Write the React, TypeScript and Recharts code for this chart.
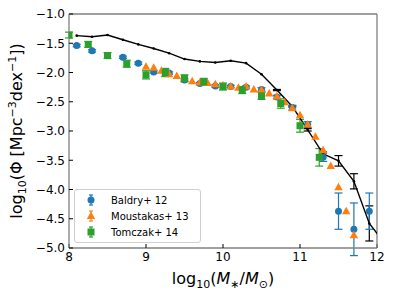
import { ScatterChart, Scatter, XAxis, YAxis, ErrorBar, Legend, Label } from "recharts";

// model curve (black)
const modelX = [8.1, 8.3, 8.5, 8.7, 8.9, 9.1, 9.3, 9.5, 9.7, 9.9, 10.1, 10.3, 10.5, 10.7, 10.9, 11.1, 11.3, 11.5, 11.7, 11.9, 12.1];
const modelY = [-1.37, -1.39, -1.36, -1.44, -1.52, -1.59, -1.67, -1.77, -1.81, -1.83, -1.8, -1.84, -2.03, -2.3, -2.58, -2.98, -3.39, -3.51, -3.86, -4.58, -4.92];
const modelErr = [0, 0, 0, 0, 0, 0, 0, 0, 0, 0, 0, 0, 0, 0.01, 0.01, 0.02, 0.03, 0.09, 0.13, 0.3, 0];

const baldryX = [8.1, 8.3, 8.7, 8.9, 9.1, 9.3, 9.5, 9.7, 9.9, 10.1, 10.3, 10.5, 10.7, 10.9, 11.1, 11.3, 11.5, 11.7, 11.9];
const baldryY = [-1.54, -1.63, -1.74, -1.84, -1.99, -2.01, -2.13, -2.19, -2.23, -2.24, -2.25, -2.29, -2.42, -2.6, -2.89, -3.45, -4.37, -4.68, -4.37];
const baldryErr = [0.02, 0.02, 0.02, 0.02, 0.02, 0.02, 0.02, 0.02, 0.02, 0.02, 0.02, 0.03, 0.03, 0.04, 0.05, 0.07, 0.31, 0.45, 0.31];

const moustakasX = [9.0, 9.1, 9.2, 9.3, 9.4, 9.5, 9.6, 9.7, 9.8, 9.9, 10.0, 10.1, 10.2, 10.3, 10.4, 10.5, 10.6, 10.7, 10.8, 10.9, 11.0, 11.1, 11.2, 11.3, 11.4, 11.5, 11.6, 11.7];
const moustakasY = [-1.9, -1.92, -1.97, -2.03, -2.06, -2.1, -2.15, -2.17, -2.18, -2.2, -2.22, -2.24, -2.26, -2.24, -2.29, -2.3, -2.36, -2.41, -2.51, -2.61, -2.73, -2.89, -3.1, -3.33, -3.6, -3.96, -4.37, -4.78];

const tomczakX = [8.0, 8.25, 8.5, 8.75, 9.0, 9.25, 9.5, 9.75, 10.0, 10.25, 10.5, 10.75, 11.0, 11.25];
const tomczakY = [-1.36, -1.52, -1.71, -1.85, -2.04, -2.0, -2.1, -2.16, -2.24, -2.3, -2.4, -2.53, -2.91, -3.45];
const tomczakErr = [0.05, 0.05, 0.05, 0.06, 0.07, 0.07, 0.06, 0.06, 0.06, 0.06, 0.06, 0.08, 0.11, 0.15];

const xTicks = [8, 9, 10, 11, 12];
const yTicks = [-1, -1.5, -2, -2.5, -3, -3.5, -4, -4.5, -5];

const BLUE = "#1f77b4";
const ORANGE = "#ff7f0e";
const GREEN = "#2ca02c";
const FONT = "DejaVu Sans, sans-serif";
const SPINE = "#808080";

const model = modelX.map((x, i) => ({ x, y: modelY[i], err: modelErr[i] }));
const baldry = baldryX.map((x, i) => ({ x, y: baldryY[i], err: baldryErr[i] }));
const moustakas = moustakasX.map((x, i) => ({ x, y: moustakasY[i] }));
const tomczak = tomczakX.map((x, i) => ({ x, y: tomczakY[i], err: tomczakErr[i] }));

const fmt = (v: number) => v.toFixed(1).replace("-", "\u2212");

const Dot = (p: any) => <circle cx={p.cx} cy={p.cy} r={1.3} fill="#000" />;
const Circ = (p: any) => <circle cx={p.cx} cy={p.cy} r={3.5} fill={BLUE} />;
const Tri = (p: any) => (
  <polygon points={`${p.cx},${p.cy - 4.5} ${p.cx - 4.2},${p.cy + 3} ${p.cx + 4.2},${p.cy + 3}`} fill={ORANGE} />
);
const Sq = (p: any) => <rect x={p.cx - 3.5} y={p.cy - 3.5} width={7} height={7} fill={GREEN} />;

const legendItems = [
  { name: "Baldry+ 12", color: BLUE, kind: "circle" },
  { name: "Moustakas+ 13", color: ORANGE, kind: "tri" },
  { name: "Tomczak+ 14", color: GREEN, kind: "square" },
];

function LegendBox() {
  return (
    <div
      style={{
        border: "1px solid #d0d0d0",
        borderRadius: 3,
        background: "rgba(255,255,255,0.8)",
        padding: "2px 0 2px 5px",
        fontFamily: FONT,
        fontSize: 10,
        width: 120,
      }}
    >
      {legendItems.map((it) => (
        <div key={it.name} style={{ display: "flex", alignItems: "center", height: 16 }}>
          <svg width={22} height={16}>
            <line x1={11} x2={11} y1={3} y2={13} stroke={it.color} strokeWidth={1.2} />
            <line x1={9} x2={13} y1={3} y2={3} stroke={it.color} strokeWidth={1.2} />
            <line x1={9} x2={13} y1={13} y2={13} stroke={it.color} strokeWidth={1.2} />
            {it.kind === "circle" && <circle cx={11} cy={8} r={3.5} fill={it.color} />}
            {it.kind === "tri" && <polygon points="11,3.5 6.8,11 15.2,11" fill={it.color} />}
            {it.kind === "square" && <rect x={7.5} y={4.5} width={7} height={7} fill={it.color} />}
          </svg>
          <span style={{ marginLeft: 9, color: "#000" }}>{it.name}</span>
        </div>
      ))}
    </div>
  );
}

export default function App() {
  return (
    <div style={{ position: "fixed", left: 0, top: 0, width: 394, height: 296, background: "#fff" }}>
      <ScatterChart width={394} height={296} margin={{ top: 4, right: 7, bottom: 0, left: 9 }}>
        <XAxis
          xAxisId="b"
          type="number"
          dataKey="x"
          domain={[8, 12]}
          ticks={xTicks}
          allowDataOverflow
          height={48}
          tickSize={-4}
          tickMargin={8}
          axisLine={{ stroke: SPINE, strokeWidth: 1.3 }}
          tickLine={{ stroke: "#000" }}
          tick={{ fill: "#000", fontSize: 12, fontFamily: FONT }}
        >
          <Label
            content={() => (
              <text x={223} y={284} textAnchor="middle" fontFamily={FONT} fontSize={16} fill="#000">
                log<tspan fontSize={11} dy={4}>10</tspan>
                <tspan dy={-4}>(</tspan>
                <tspan fontStyle="italic">M</tspan>
                <tspan fontSize={11} dy={4}>∗</tspan>
                <tspan dy={-4}>/</tspan>
                <tspan fontStyle="italic">M</tspan>
                <tspan fontSize={11} dy={4}>⊙</tspan>
                <tspan dy={-4}>)</tspan>
              </text>
            )}
          />
        </XAxis>
        <XAxis
          xAxisId="t"
          orientation="top"
          type="number"
          domain={[8, 12]}
          ticks={xTicks}
          allowDataOverflow
          height={10}
          tickSize={-4}
          tick={false}
          axisLine={{ stroke: SPINE, strokeWidth: 1.3 }}
          tickLine={{ stroke: "#000" }}
        />
        <YAxis
          yAxisId="l"
          type="number"
          dataKey="y"
          domain={[-5, -1]}
          ticks={yTicks}
          allowDataOverflow
          width={60}
          tickSize={-4}
          tickMargin={8}
          tickFormatter={fmt}
          axisLine={{ stroke: SPINE, strokeWidth: 1.3 }}
          tickLine={{ stroke: "#000" }}
          tick={{ fill: "#000", fontSize: 12, fontFamily: FONT }}
        >
          <Label
            content={() => (
              <text
                x={0}
                y={0}
                transform="translate(22,131) rotate(-90)"
                textAnchor="middle"
                fontFamily={FONT}
                fontSize={16}
                fill="#000"
              >
                log<tspan fontSize={11} dy={4}>10</tspan>
                <tspan dy={-4}>(Φ [Mpc</tspan>
                <tspan fontSize={11} dy={-6}>−3</tspan>
                <tspan dy={6}>dex</tspan>
                <tspan fontSize={11} dy={-6}>−1</tspan>
                <tspan dy={6}>])</tspan>
              </text>
            )}
          />
        </YAxis>
        <YAxis
          yAxisId="r"
          orientation="right"
          type="number"
          domain={[-5, -1]}
          ticks={yTicks}
          allowDataOverflow
          width={10}
          tickSize={-4}
          tick={false}
          axisLine={{ stroke: SPINE, strokeWidth: 1.3 }}
          tickLine={{ stroke: "#000" }}
        />
        <Legend
          layout="vertical"
          align="center"
          verticalAlign="middle"
          wrapperStyle={{ left: 74, top: 189, width: 126 }}
          content={() => <LegendBox />}
        />
        <Scatter
          xAxisId="b"
          yAxisId="l"
          data={model}
          shape={Dot}
          line={{ stroke: "#000", strokeWidth: 1.4 }}
          lineType="joint"
          isAnimationActive={false}
        >
          <ErrorBar dataKey="err" direction="y" width={4} stroke="#000" strokeWidth={1.2} />
        </Scatter>
        <Scatter xAxisId="b" yAxisId="l" data={baldry} shape={Circ} isAnimationActive={false}>
          <ErrorBar dataKey="err" direction="y" width={4} stroke={BLUE} strokeWidth={1.2} />
        </Scatter>
        <Scatter xAxisId="b" yAxisId="l" data={moustakas} shape={Tri} isAnimationActive={false} />
        <Scatter xAxisId="b" yAxisId="l" data={tomczak} shape={Sq} isAnimationActive={false}>
          <ErrorBar dataKey="err" direction="y" width={4} stroke={GREEN} strokeWidth={1.2} />
        </Scatter>
      </ScatterChart>
    </div>
  );
}
